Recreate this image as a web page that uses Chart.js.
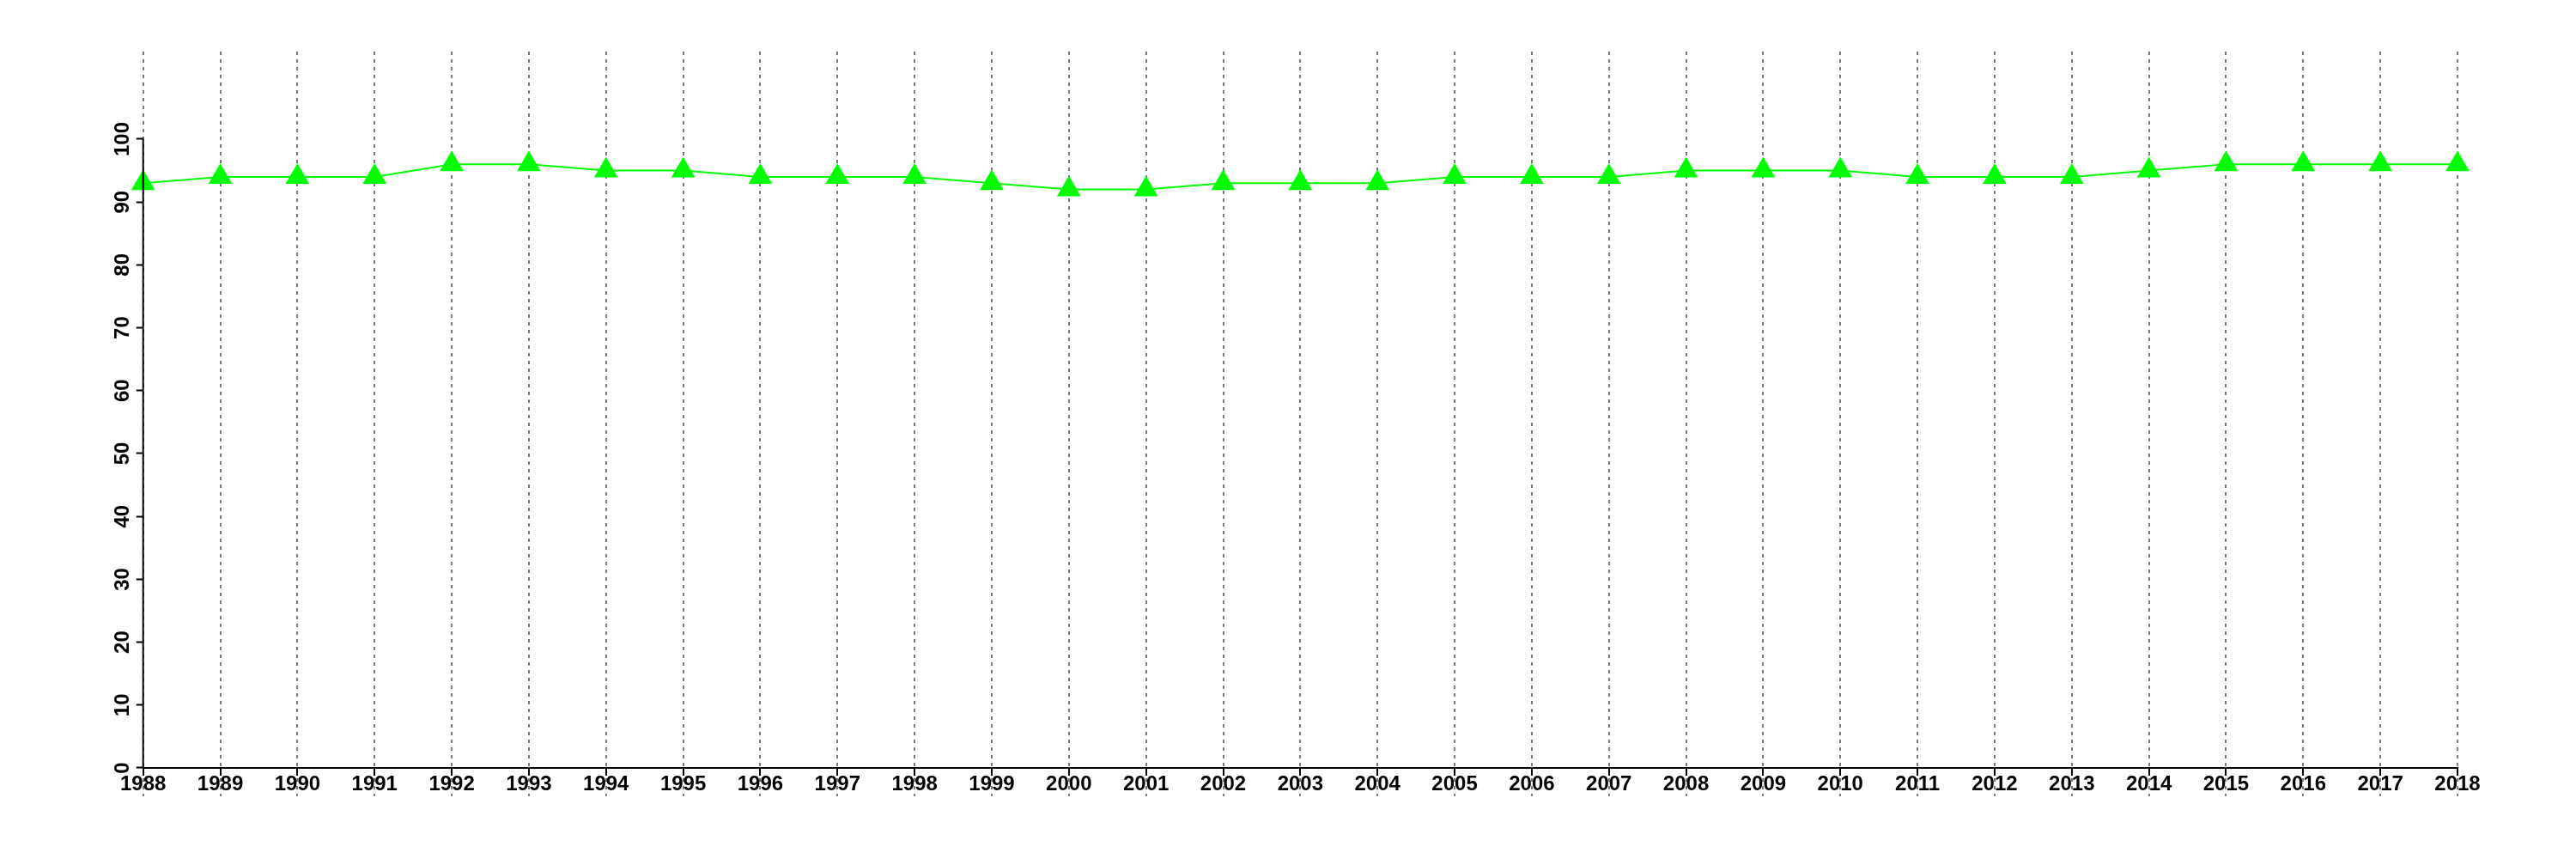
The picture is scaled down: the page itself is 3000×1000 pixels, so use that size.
<!DOCTYPE html>
<html>
<head>
<meta charset="utf-8">
<script src="https://cdn.jsdelivr.net/npm/chart.js@4/dist/chart.umd.min.js"></script>
<style>
  body { margin: 0; background: #fff; }
  canvas { display: block; }
</style>
</head>
<body>
<canvas id="myChart" width="3000" height="1000"></canvas>
<script>
// данные графика
const years = ["1988", "1989", "1990", "1991", "1992", "1993", "1994", "1995", "1996", "1997", "1998",
  "1999", "2000", "2001", "2002", "2003", "2004", "2005", "2006", "2007", "2008", "2009", "2010",
  "2011", "2012", "2013", "2014", "2015", "2016", "2017", "2018"];
const values = [93, 94, 94, 94, 96, 96, 95, 95, 94, 94, 94,
  93, 92, 92, 93, 93, 93, 94, 94, 94, 95, 95, 95,
  94, 94, 94, 95, 96, 96, 96, 96];
const yTicks = [0, 10, 20, 30, 40, 50, 60, 70, 80, 90, 100];

const font = { family: "'Liberation Sans', Arial, sans-serif", size: 24, weight: "bold" };

// ось Y рисуется только от 0 до 100
const yAxisLine = {
  id: "yAxisLine",
  afterDraw(chart) {
    const { ctx, scales } = chart;
    const x = scales.x.getPixelForValue(0);
    ctx.save();
    ctx.strokeStyle = "#000";
    ctx.lineWidth = 2;
    ctx.beginPath();
    ctx.moveTo(x, scales.y.getPixelForValue(yTicks[0]) + 1);
    ctx.lineTo(x, scales.y.getPixelForValue(yTicks[yTicks.length - 1]));
    ctx.stroke();
    ctx.restore();
  },
};

new Chart(document.getElementById("myChart"), {
  type: "line",
  data: {
    labels: years,
    datasets: [
      {
        data: values,
        borderColor: "#00ff00",
        borderWidth: 2,
        backgroundColor: "#00ff00",
        pointStyle: "triangle",
        pointRadius: 16,
        pointBorderWidth: 0,
        pointBackgroundColor: "#00ff00",
        tension: 0,
        clip: false,
      },
    ],
  },
  options: {
    responsive: false,
    animation: false,
    devicePixelRatio: 1,
    layout: { padding: { left: 0, top: 60, right: 138, bottom: 73 } },
    plugins: { legend: { display: false }, tooltip: { enabled: false } },
    scales: {
      x: {
        type: "category",
        offset: false,
        position: { y: 0 },
        z: 1,
        grid: {
          color: "#7a7a7a",
          lineWidth: 2,
          tickLength: 8,
          tickColor: "#000",
          tickWidth: 2,
          tickBorderDash: [],
        },
        border: { display: true, color: "#000", width: 2, dash: [4, 5] },
        ticks: {
          color: "#000",
          font: font,
          autoSkip: false,
          maxRotation: 0,
          padding: -3,
        },
      },
      y: {
        min: -4.51,
        max: 113.93,
        afterBuildTicks: (scale) => {
          scale.ticks = yTicks.map((v) => ({ value: v }));
        },
        afterFit: (scale) => {
          scale.width = 166.7;
        },
        grid: {
          drawOnChartArea: false,
          tickLength: 8,
          tickColor: "#000",
          tickWidth: 2,
        },
        border: { display: false },
        ticks: {
          color: "#000",
          font: font,
          minRotation: 90,
          maxRotation: 90,
          crossAlign: "center",
          padding: -5,
        },
      },
    },
  },
  plugins: [yAxisLine],
});
</script>
</body>
</html>
